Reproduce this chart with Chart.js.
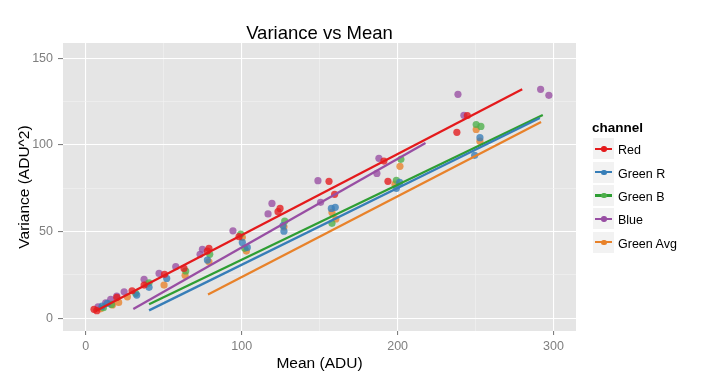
<!DOCTYPE html>
<html>
<head>
<meta charset="utf-8">
<script src="https://cdn.jsdelivr.net/npm/chart.js@4.4.1/dist/chart.umd.min.js"></script>
<style>
    body { margin: 0; background: #fff; font-family: 'Liberation Sans', Arial, sans-serif; }
    #wrap { position: relative; width: 720px; height: 384px; }
    #title { position: absolute; left: 63px; width: 513px; top: 23px; text-align: center; font-size: 18.5px; line-height: 20px; color: #000; }
    #legend-title { position: absolute; left: 592px; top: 120px; font-size: 13.5px; line-height: 16px; font-weight: bold; color: #000; }
    .key { position: absolute; left: 593px; width: 21px; height: 21px; background: #F2F2F2; }
    .key .ln { position: absolute; left: 2px; right: 2px; top: 9.5px; height: 2.4px; }
    .key .dt { position: absolute; left: 8px; top: 8px; width: 5.5px; height: 5.5px; border-radius: 50%; }
    .lbl { position: absolute; left: 618px; font-size: 12.5px; line-height: 15px; color: #000; white-space: nowrap; }
</style>
</head>
<body>
<div id="wrap">
    <canvas id="chart" width="720" height="384"></canvas>
    <div id="title">Variance vs Mean</div>
    <div id="legend-title">channel</div>
    <div id="legend"></div>
</div>
<script>
// channels, in legend order
const CHANNELS = ['Red', 'Green R', 'Green B', 'Blue', 'Green Avg'];
const LINE_COLORS = ['#E41A1C', '#377EB8', '#2E9E33', '#984EA3', '#E8822A'];
const POINT_COLORS = ['#E41A1C', '#377EB8', '#4DAF4A', '#984EA3', '#E8822A'];

// measured points (mean ADU, variance ADU^2)
const redMean = [5.3, 7.1, 19.9, 29.7, 37.4, 50.5, 63, 78, 79, 98.3, 123.3, 124.6, 156, 159.6, 191.2, 193.8, 244.7, 238];
const redVar  = [5.2, 4.4, 12.1, 15.9, 19.2, 25.4, 28.8, 38.8, 40.4, 47.1, 61.5, 63.4, 79, 71.5, 90.7, 79, 117, 107.3];

const greenRMean = [10.5, 13.9, 32.7, 40.6, 51.9, 78, 100.4, 103.6, 127.1, 126.5, 157.5, 160, 201.3, 199.2, 252.8, 249.4];
const greenRVar  = [7.0, 8.6, 13.4, 17.9, 23, 33.6, 43.8, 40.9, 50.3, 53.5, 63.4, 64, 78.4, 75, 104.2, 94];

const greenBMean = [11.3, 16.5, 32, 40.6, 64.1, 79.5, 99.4, 101.9, 127.6, 157.9, 202.1, 199.2, 250.4, 253.4];
const greenBVar  = [6.1, 8.0, 14.4, 20.5, 27.3, 36.9, 48.6, 40.4, 56.1, 54.8, 91.7, 79.6, 111.8, 110.7];

const blueMean = [7.9, 12.8, 16, 19.9, 24.6, 37.4, 47, 57.7, 73.3, 74.8, 94.4, 116.9, 119.4, 148.9, 150.6, 188, 186.7, 238.7, 242.5, 291.7, 297];
const blueVar  = [6.7, 9.0, 11, 12.9, 15.3, 22.5, 25.9, 29.8, 36.9, 39.8, 50.5, 60.2, 66.3, 79.4, 66.9, 92.3, 83.6, 129.2, 117.1, 132.1, 128.6];

const greenAvgMean = [9.5, 17.1, 21.1, 26.7, 39.1, 50.2, 63.7, 79, 100.4, 103, 127.1, 157.9, 160.4, 201.5, 198.3, 250.4, 252.8];
const greenAvgVar  = [5.5, 7.7, 9.2, 12.4, 19.8, 19.2, 24.8, 32.6, 46.7, 38.8, 52.8, 61.1, 57.3, 87.7, 77.4, 108.9, 102.2];

// fitted lines (start and end)
const redFitMean = [6.4, 279.9],      redFitVar = [4.2, 132.1];
const greenRFitMean = [40.6, 291.2],  greenRFitVar = [4.6, 115.5];
const greenBFitMean = [40.6, 293.1],  greenBFitVar = [8.1, 117.3];
const blueFitMean = [30.5, 217.9],    blueFitVar = [5.4, 101.1];
const greenAvgFitMean = [78.4, 292],  greenAvgFitVar = [13.8, 113.2];

const X_TICKS = [0, 50, 100, 150, 200, 250, 300];
const X_LABELS = [0, 100, 200, 300];
const Y_TICKS = [0, 25, 50, 75, 100, 125, 150];
const Y_LABELS = [0, 50, 100, 150];

const POINTS = [[redMean, redVar], [greenRMean, greenRVar], [greenBMean, greenBVar], [blueMean, blueVar], [greenAvgMean, greenAvgVar]];
const FITS = [[redFitMean, redFitVar], [greenRFitMean, greenRFitVar], [greenBFitMean, greenBFitVar], [blueFitMean, blueFitVar], [greenAvgFitMean, greenAvgFitVar]];

const rgba = (hex, a) => {
    const n = parseInt(hex.slice(1), 16);
    return `rgba(${n >> 16},${(n >> 8) & 255},${n & 255},${a})`;
};
const pairs = (xs, ys) => xs.map((x, i) => ({ x: x, y: ys[i] }));

const datasets = [];
CHANNELS.forEach((name, i) => {
    datasets.push({
        label: name,
        data: pairs(POINTS[i][0], POINTS[i][1]),
        backgroundColor: rgba(POINT_COLORS[i], 0.78),
        borderWidth: 0,
        pointRadius: 3.6,
        showLine: false,
        order: 2
    });
    datasets.push({
        label: name + ' fit',
        data: pairs(FITS[i][0], FITS[i][1]),
        borderColor: LINE_COLORS[i],
        borderWidth: 2.3,
        pointRadius: 0,
        showLine: true,
        fill: false,
        tension: 0,
        order: 1
    });
});

// html legend
const legend = document.getElementById('legend');
CHANNELS.forEach((name, i) => {
    const top = 138.3 + i * 23.3;
    legend.innerHTML += `
        <div class="key" style="top:${top}px;">
            <div class="ln" style="background:${LINE_COLORS[i]};"></div>
            <div class="dt" style="background:${POINT_COLORS[i]};"></div>
        </div>
        <div class="lbl" style="top:${top + 5}px;">${name}</div>`;
});

const panelBg = {
    id: 'panelBg',
    beforeDraw(chart) {
        const { ctx, chartArea: a } = chart;
        ctx.save();
        ctx.fillStyle = '#E5E5E5';
        ctx.fillRect(a.left, a.top, a.right - a.left, a.bottom - a.top);
        ctx.restore();
    }
};

const gridStyle = (labels) => ({
    color: c => (c.tick && labels.includes(c.tick.value)) ? '#FFFFFF' : '#F2F2F2',
    lineWidth: c => (c.tick && labels.includes(c.tick.value)) ? 1.1 : 0.6,
    tickColor: c => (c.tick && labels.includes(c.tick.value)) ? '#7F7F7F' : 'rgba(0,0,0,0)',
    drawTicks: true
});

const FONT = "'Liberation Sans', Arial, sans-serif";
Chart.defaults.font.family = FONT;

new Chart(document.getElementById('chart'), {
    type: 'scatter',
    data: { datasets: datasets },
    plugins: [panelBg],
    options: {
        responsive: false,
        animation: false,
        layout: { padding: { top: 43, right: 144, left: 0, bottom: 0 } },
        plugins: { legend: { display: false }, tooltip: { enabled: false }, title: { display: false } },
        scales: {
            x: {
                type: 'linear',
                min: -14.6,
                max: 314.4,
                afterBuildTicks: s => { s.ticks = X_TICKS.map(v => ({ value: v })); },
                afterFit: s => { s.height = 53; },
                border: { display: false },
                grid: Object.assign(gridStyle(X_LABELS), { tickLength: 4 }),
                ticks: {
                    autoSkip: false, maxRotation: 0, padding: 4,
                    color: '#7F7F7F', font: { size: 12.5 },
                    callback: v => X_LABELS.includes(v) ? String(v) : ''
                },
                title: { display: true, text: 'Mean (ADU)', color: '#000', font: { size: 15.5 }, padding: { top: 0, bottom: 11 } }
            },
            y: {
                type: 'linear',
                min: -7.3,
                max: 158.8,
                afterBuildTicks: s => { s.ticks = Y_TICKS.map(v => ({ value: v })); },
                afterFit: s => { s.width = 63; },
                border: { display: false },
                grid: Object.assign(gridStyle(Y_LABELS), { tickLength: 5 }),
                ticks: {
                    autoSkip: false, padding: 5,
                    color: '#7F7F7F', font: { size: 12.5 },
                    callback: v => Y_LABELS.includes(v) ? String(v) : ''
                },
                title: { display: true, text: 'Variance (ADU^2)', color: '#000', font: { size: 15.5 }, padding: { top: 15, bottom: 0 } }
            }
        }
    }
});
</script>
</body>
</html>
